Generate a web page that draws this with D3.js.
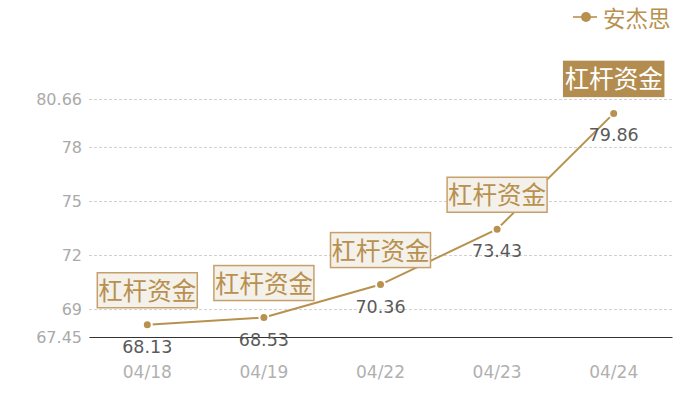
<!DOCTYPE html>
<html><head><meta charset="utf-8">
<script src="https://cdn.jsdelivr.net/npm/d3@7"></script>
<style>body{margin:0;background:#fff}svg{display:block}</style>
</head><body>
<svg id="c" width="700" height="400"></svg>
<script>
const categories = ["04/18","04/19","04/22","04/23","04/24"];
const values = [68.13, 68.53, 70.36, 73.43, 79.86];
const yTicks = [67.45, 69, 72, 75, 78, 80.66];
const seriesName = "安杰思";
const tagText = "杠杆资金";

const gold = "#b8914f";
const svg = d3.select("#c");
const font = "'DejaVu Sans',sans-serif";
const cjk = "'Noto Sans CJK SC',sans-serif";
const m = {l:89, r:672, t:99, b:337};

const x = d3.scaleBand().domain(categories).range([m.l, m.r]);
const y = d3.scaleLinear().domain([67.45, 80.66]).range([m.b, m.t]);

// grid
svg.append("g").selectAll("line").data(yTicks.filter(t=>t!==67.45)).join("line")
  .attr("x1", m.l).attr("x2", m.r)
  .attr("y1", d=>y(d)+0.5).attr("y2", d=>y(d)+0.5)
  .attr("stroke", "#d0d0d0").attr("stroke-dasharray","3,2");

// y axis labels
const ya = svg.append("g").attr("transform", `translate(${m.l},0)`)
  .call(d3.axisLeft(y).tickValues(yTicks).tickSize(0).tickPadding(7).tickFormat(d=>String(d)));
ya.select(".domain").remove();
ya.selectAll("text").attr("fill","#aaa").style("font-family",font).style("font-size","16px");

// x axis
const xa = svg.append("g").attr("transform", `translate(0,${m.b})`)
  .call(d3.axisBottom(x).tickSize(0).tickPadding(29));
xa.select(".domain").attr("stroke","#333").attr("stroke-width",1.2);
xa.selectAll("text").attr("fill","#b0b0b0").style("font-family",font).style("font-size","17px");

const px = (d,i)=>x(categories[i]) + x.bandwidth()/2;

// line
svg.append("path").datum(values)
  .attr("fill","none").attr("stroke",gold).attr("stroke-width",2)
  .attr("d", d3.line().x(px).y(d=>y(d)));

svg.append("g").selectAll("circle").data(values).join("circle")
  .attr("cx", px).attr("cy", d=>y(d)).attr("r",4.5)
  .attr("fill",gold).attr("stroke","#fff").attr("stroke-width",2);

// value labels
svg.append("g").selectAll("text").data(values).join("text")
  .attr("x", px).attr("y", d=>y(d)+28)
  .attr("text-anchor","middle").attr("fill","#5a5a5a")
  .style("font-family",font).style("font-size","17.5px")
  .text(d=>d.toFixed(2));

// tags
const tags = svg.append("g").selectAll("g").data(values).join("g")
  .attr("transform",(d,i)=>`translate(${px(d,i)},${y(d)-17})`);
tags.append("rect")
  .attr("x",-50).attr("y",-35).attr("width",100).attr("height",35)
  .attr("fill",(d,i)=>i===values.length-1?"#b38d50":"#f4f0ea")
  .attr("stroke",(d,i)=>i===values.length-1?"#b38d50":"#c6a06a").attr("stroke-width",1.5);
tags.append("text")
  .attr("x",0).attr("y",-8).attr("text-anchor","middle")
  .attr("fill",(d,i)=>i===values.length-1?"#fff":gold)
  .style("font-family",cjk).style("font-size","24.5px")
  .text(tagText);

// legend
const lg = svg.append("g").attr("transform","translate(573,17)");
lg.append("line").attr("x1",0).attr("x2",24).attr("stroke",gold).attr("stroke-width",2).attr("opacity",0.8);
lg.append("circle").attr("cx",13).attr("r",5).attr("fill",gold);
lg.append("text").attr("x",30).attr("y",10).attr("fill",gold)
  .style("font-family",cjk).style("font-size","22.5px").text(seriesName);
</script>
</body></html>
